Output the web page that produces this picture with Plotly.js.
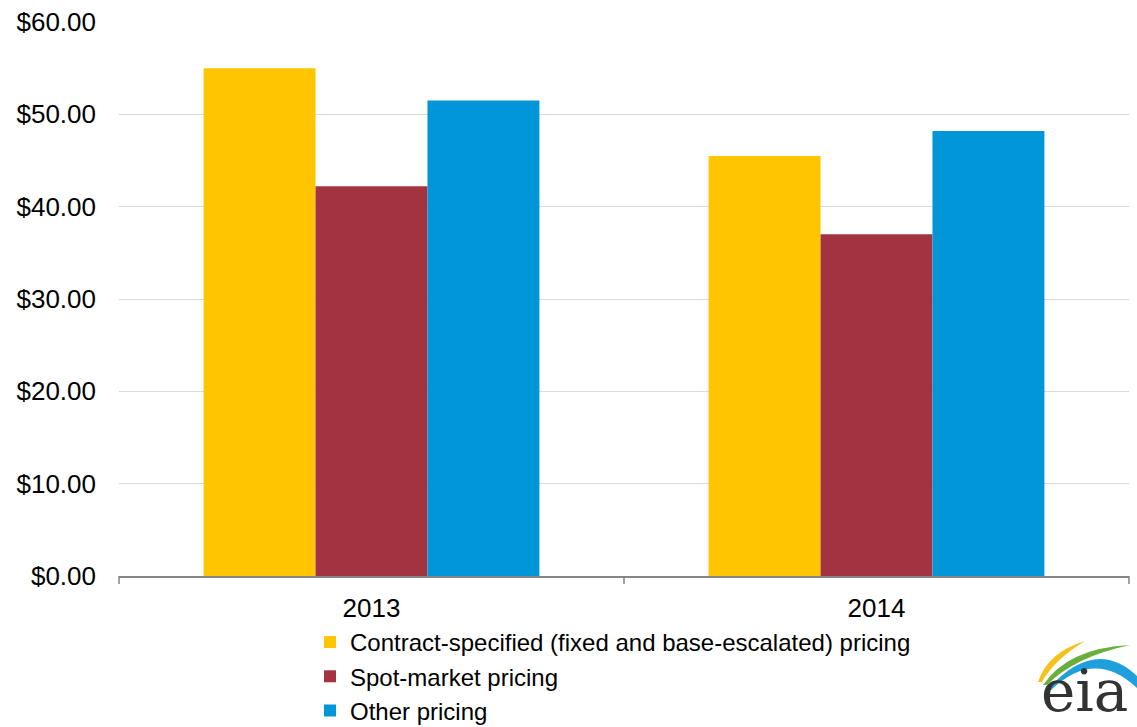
<!DOCTYPE html>
<html>
<head>
<meta charset="utf-8">
<script src="https://cdn.plot.ly/plotly-3.0.1.min.js"></script>
<style>html,body{margin:0;padding:0;background:#fff;}#chart{width:1137px;height:727px;}</style>
</head>
<body>
<div id="chart"></div>
<script>
const categories = ["2013", "2014"];
const seriesNames = ["Contract-specified (fixed and base-escalated) pricing", "Spot-market pricing", "Other pricing"];
const contractValues = [55.0, 45.5];
const spotValues = [42.2, 37.0];
const otherValues = [51.5, 48.2];
const yTickValues = [0, 10, 20, 30, 40, 50, 60];
const yTickLabels = ["$0.00", "$10.00", "$20.00", "$30.00", "$40.00", "$50.00", "$60.00"];
const colors = ["#FFC600", "#A33340", "#0096D7"];

const W = 1137, H = 727;
const M = {l: 119, r: 8, t: 22, b: 151, autoexpand: false};
const PW = W - M.l - M.r, PH = H - M.t - M.b;
// convert pixel position to paper coords (for logo decoration only)
const px = (x) => +((x - M.l) / PW).toFixed(4);
const py = (y) => +((H - M.b - y) / PH).toFixed(4);
const P = (x, y) => px(x) + " " + py(y);

const allValues = [contractValues, spotValues, otherValues];
const traces = allValues.map((vals, i) => ({
  type: "bar",
  name: seriesNames[i],
  x: categories,
  y: vals,
  marker: {color: colors[i], line: {width: 0}},
  hoverinfo: "skip"
}));

const tickFont = {family: "Liberation Sans, Arial, sans-serif", size: 26, color: "#000"};
const legendFont = {family: "Liberation Sans, Arial, sans-serif", size: 24, color: "#000"};

const layout = {
  width: W, height: H,
  margin: M,
  paper_bgcolor: "#fff", plot_bgcolor: "#fff",
  font: tickFont,
  barmode: "group",
  bargap: 0.335,
  bargroupgap: 0,
  showlegend: true,
  legend: {
    x: px(310), y: py(620), xanchor: "left", yanchor: "top",
    orientation: "v",
    font: legendFont,
    itemwidth: 30,
    tracegroupgap: 0,
    bgcolor: "rgba(0,0,0,0)"
  },
  xaxis: {
    type: "category",
    showgrid: false,
    showline: true, linecolor: "#868686", linewidth: 1.5,
    ticks: "", tickfont: tickFont, ticklabelstandoff: 8,
    zeroline: false
  },
  yaxis: {
    range: [0, 60],
    tickvals: yTickValues, ticktext: yTickLabels,
    showgrid: true, gridcolor: "#D9D9D9", gridwidth: 1,
    showline: false, zeroline: false, ticks: "",
    tickfont: tickFont, ticklabelstandoff: 22
  },
  shapes: [
    {type: "line", xref: "paper", yref: "paper", x0: 0, x1: 0, y0: 0, y1: py(H - M.b + 8), line: {color: "#868686", width: 1.5}},
    {type: "line", xref: "paper", yref: "paper", x0: 0.5, x1: 0.5, y0: 0, y1: py(H - M.b + 8), line: {color: "#868686", width: 1.5}},
    {type: "line", xref: "paper", yref: "paper", x0: 1, x1: 1, y0: 0, y1: py(H - M.b + 8), line: {color: "#868686", width: 1.5}},
    {type: "path", xref: "paper", yref: "paper", layer: "above",
     path: "M " + P(1038, 682) + " Q " + P(1048, 652) + " " + P(1085, 641) + " Q " + P(1054, 660) + " " + P(1042, 682) + " Z",
     fillcolor: "#F5C21B", line: {width: 0}},
    {type: "path", xref: "paper", yref: "paper", layer: "above",
     path: "M " + P(1043, 685) + " Q " + P(1068, 648) + " " + P(1130, 645) + " Q " + P(1074, 657) + " " + P(1047, 685) + " Z",
     fillcolor: "#6AAE3C", line: {width: 0}},
    {type: "path", xref: "paper", yref: "paper", layer: "above",
     path: "M " + P(1047, 690) + " Q " + P(1095, 636) + " " + P(1137, 676) + " L " + P(1137, 688) + " Q " + P(1095, 648) + " " + P(1051, 690) + " Z",
     fillcolor: "#1FA0DC", line: {width: 0}}
  ],
  annotations: [
    {xref: "paper", yref: "paper", x: px(1085), y: py(727), xanchor: "center", yanchor: "bottom", text: "eia", showarrow: false,
     font: {family: "DejaVu Serif, Liberation Serif, serif", size: 58, color: "#333"}}
  ]
};

Plotly.newPlot("chart", traces, layout, {staticPlot: true, displayModeBar: false});
</script>
</body>
</html>
